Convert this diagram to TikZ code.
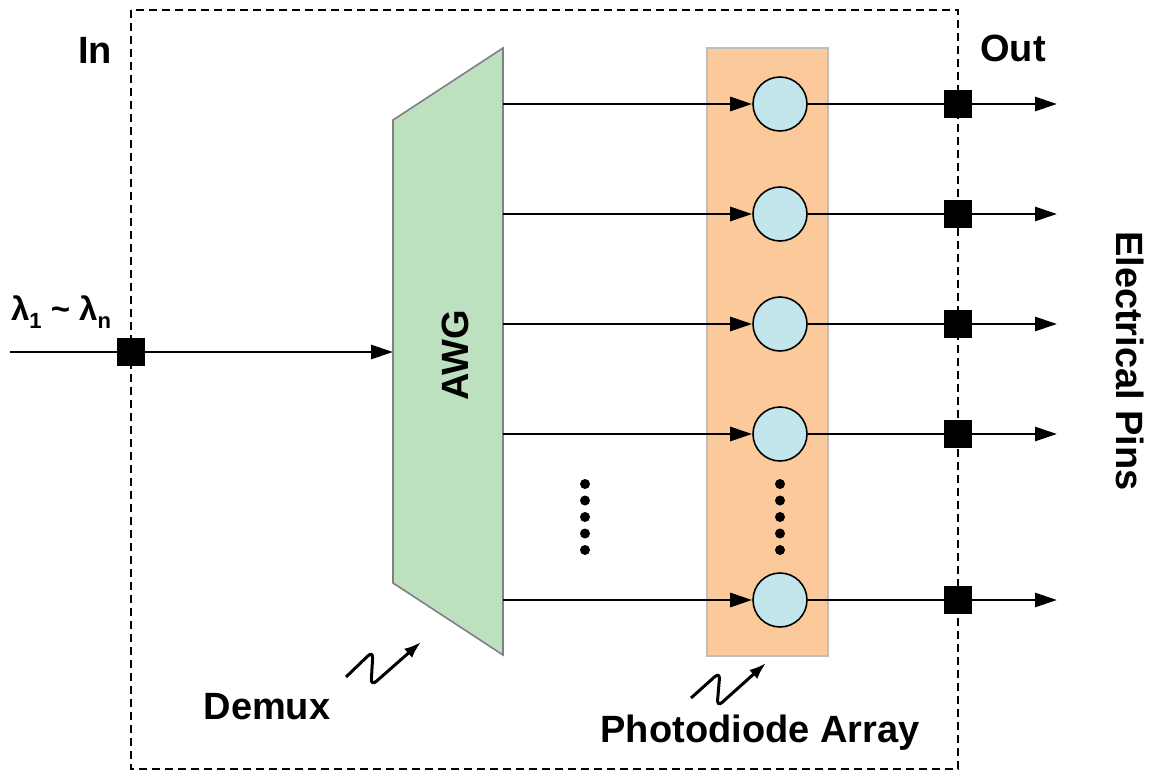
\documentclass[tikz,border=0pt]{standalone}
\usepackage{fontspec}
\setmainfont{Liberation Sans}
\usetikzlibrary{positioning,calc,arrows.meta}
\definecolor{awggreen}{RGB}{189,224,190}
\definecolor{pdorange}{RGB}{252,201,155}
\definecolor{pdblue}{RGB}{194,230,236}

\begin{document}
\begin{tikzpicture}[x=1pt, y=-1pt,
    every node/.style={font=\fontsize{38}{45}\selectfont\bfseries},
    pin/.style={rectangle, fill=black, minimum size=28pt, inner sep=0pt},
    pd/.style={circle, draw, fill=pdblue, minimum size=54pt, inner sep=0pt, line width=1.6pt},
    sig/.style={line width=2.8pt, -{Triangle[length=22pt,width=14pt]}},
    dot/.style={circle, fill=black, minimum size=10pt, inner sep=0pt},
    wiggle/.style={line width=3pt, rounded corners=7pt, -{Latex[length=17pt,width=12pt]}}]
    \useasboundingbox (0,0) rectangle (1159,773);

    % chip outline
    \draw [line width=2.4pt, dash pattern=on 8pt off 5pt] (131,10) rectangle (958,769);
    \node (lblin) at (95,50) {In};
    \node (lblout) at (1013,48) {Out};
    \node [rotate=-90] (lblpins) at (1130,361) {Electrical Pins};

    % demux
    \draw [fill=awggreen, draw=gray, line width=1.6pt] (393,120) -- (503,48) -- (503,655) -- (393,583) -- cycle;
    \node [rotate=90] (awg) at (455,355) {AWG};
    \coordinate (awgin) at (393,352);

    % photodiode array
    \node [draw=black!25, fill=pdorange, line width=1.8pt, minimum width=121pt, minimum height=608pt] (pdarray) at (767.5,352) {};

    % input
    \coordinate (src) at (10,352);
    \node [pin] (inpin) at (131,352) {};
    \node [font=\fontsize{33}{40}\selectfont\bfseries] (lambda) at (61,312)
        {λ\raisebox{-8pt}{\fontsize{22}{26}\selectfont 1} \textasciitilde{} λ\raisebox{-8pt}{\fontsize{22}{26}\selectfont n}};
    \draw [line width=2.8pt] (src) -- (inpin);
    \draw [sig] (inpin) -- (awgin);

    % channels
    \foreach \y [count=\i] in {104,214,324,434,600} {
        \coordinate (awg\i) at (503,\y);
        \node [pd] (pd\i) at (780,\y) {};
        \node [pin] (pin\i) at (958,\y) {};
        \coordinate (pinend\i) at (1057,\y);
        \draw [sig] (awg\i) -- (pd\i);
        \draw [line width=2.8pt] (pd\i) -- (pin\i);
        \draw [sig] (pin\i) -- (pinend\i);
    }

    % dots
    \foreach \k in {0,...,4} {
        \node [dot] (ldot\k) at (585,484+16.5*\k) {};
        \node [dot] (rdot\k) at (780,484+16.5*\k) {};
    }

    % labels
    \node (demux) at (267,707) {Demux};
    \node (pdlabel) at (760,733) {Photodiode Array};
    \draw [wiggle] (346,677) -- (373,651) -- (371,686) -- (421,642);
    \draw [wiggle] (691,698) -- (720,672) -- (717,707) -- (766,663);
\end{tikzpicture}
\end{document}
